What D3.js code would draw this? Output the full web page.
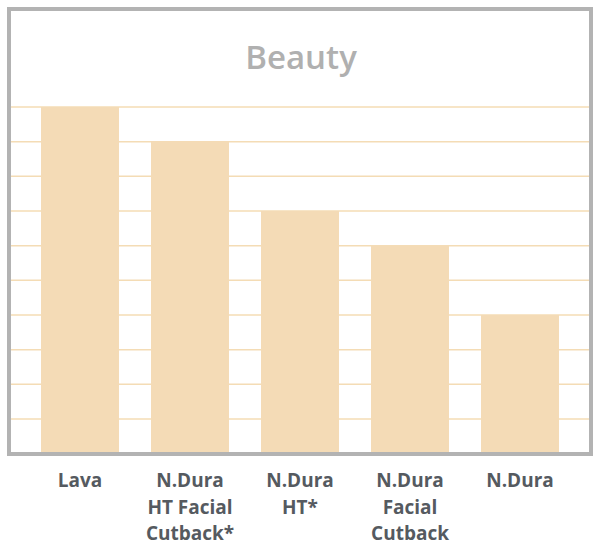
<!DOCTYPE html>
<html>
<head>
<meta charset="utf-8">
<script src="https://cdn.jsdelivr.net/npm/d3@7"></script>
<style>
  body { margin: 0; background: #fff; }
  svg { display: block; }
</style>
</head>
<body>
<div id="chart"></div>
<script>
// chart data
const categories = ['Lava', 'N.Dura|HT Facial|Cutback*', 'N.Dura|HT*', 'N.Dura|Facial|Cutback', 'N.Dura'];
const values = [10, 9, 7, 6, 4];
const yTicks = d3.range(0, 11);
const title = 'Beauty';

const width = 600;
const height = 554;

const svg = d3.select('#chart')
  .append('svg')
  .attr('width', width)
  .attr('height', height);

// scales
const x = d3.scaleBand()
  .domain(categories)
  .range([25, 575])
  .paddingInner(32 / 110)
  .paddingOuter(16 / 110);

const y = d3.scaleLinear()
  .domain([0, 10])
  .range([453.7, 107]);

// gridlines
svg.append('g')
  .selectAll('line')
  .data(yTicks)
  .join('line')
  .attr('x1', 11)
  .attr('x2', 589)
  .attr('y1', d => y(d))
  .attr('y2', d => y(d))
  .attr('stroke', '#f4dcb5')
  .attr('stroke-width', 1.5);

// bars
svg.append('g')
  .selectAll('rect')
  .data(values)
  .join('rect')
  .attr('x', (d, i) => x(categories[i]))
  .attr('width', x.bandwidth())
  .attr('y', d => y(d))
  .attr('height', d => y(0) - y(d))
  .attr('fill', '#f4dbb6');

// frame
svg.append('rect')
  .attr('x', 9)
  .attr('y', 9)
  .attr('width', 582)
  .attr('height', 445)
  .attr('fill', 'none')
  .attr('stroke', '#b3b3b3')
  .attr('stroke-width', 4);

// title
svg.append('text')
  .attr('x', 301)
  .attr('y', 69)
  .attr('text-anchor', 'middle')
  .attr('font-family', '"Open Sans", sans-serif')
  .attr('font-weight', 600)
  .attr('font-size', 33)
  .attr('fill', '#b0b0b0')
  .text(title);

// category labels
const labels = svg.append('g')
  .selectAll('text')
  .data(categories)
  .join('text')
  .attr('text-anchor', 'middle')
  .attr('font-family', '"Open Sans", sans-serif')
  .attr('font-weight', 700)
  .attr('font-size', 19)
  .attr('fill', '#555a60')
  .attr('transform', d => `translate(${x(d) + x.bandwidth() / 2},487)`);

labels.selectAll('tspan')
  .data(d => d.split('|'))
  .join('tspan')
  .attr('x', 0)
  .attr('y', (d, i) => i * 26.5)
  .text(d => d);
</script>
</body>
</html>
